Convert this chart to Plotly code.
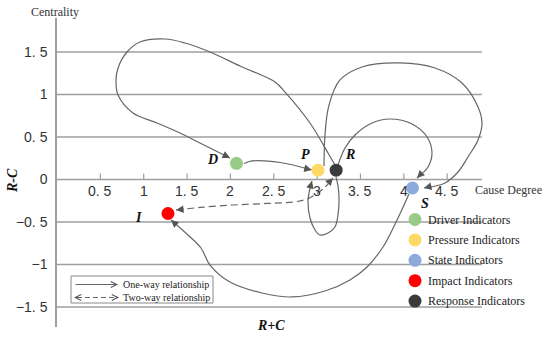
import math
import plotly.graph_objects as go

# ---------------- data ----------------
node_names = ["D", "P", "S", "I", "R"]
node_x = [2.07, 3.01, 4.10, 1.28, 3.22]      # R+C
node_y = [0.19, 0.11, -0.10, -0.40, 0.11]    # R-C
node_colors = ["#97CB86", "#FFD966", "#8EA9DB", "#FF0000", "#3B3B3B"]

legend_labels = ["Driver Indicators", "Pressure Indicators", "State Indicators",
                 "Impact Indicators", "Response Indicators"]

x_tick_vals = [0.5, 1, 1.5, 2, 2.5, 3, 3.5, 4, 4.5]
x_tick_text = ["0. 5", "1", "1. 5", "2", "2. 5", "3", "3. 5", "4", "4. 5"]
y_tick_vals = [-1.5, -1, -0.5, 0, 0.5, 1, 1.5]
y_tick_text = ["\u22121. 5", "\u22121", "\u22120. 5", "0", "0. 5", "1", "1. 5"]

# relationship curves (control points in R+C / R-C units)
dp_x = [2.157, 2.249, 2.572, 2.938]
dp_y = [0.188, 0.218, 0.200, 0.112]

rd_x = [3.206, 3.126, 2.918, 2.630, 2.514, 2.111, 1.765, 1.476, 1.246, 0.957, 0.807,
        0.704, 0.681, 0.704, 0.877, 1.153, 1.419, 1.649, 1.995]
rd_y = [0.171, 0.312, 0.665, 1.029, 1.147, 1.335, 1.500, 1.606, 1.653, 1.618, 1.500,
        1.312, 1.171, 0.994, 0.782, 0.665, 0.547, 0.429, 0.253]

ps_x = [3.080, 3.091, 3.137, 3.264, 3.518, 3.956, 4.360, 4.671, 4.856, 4.902,
        4.856, 4.740, 4.625, 4.475, 4.233]
ps_y = [0.159, 0.524, 0.876, 1.171, 1.324, 1.371, 1.312, 1.135, 0.853, 0.665,
        0.465, 0.265, 0.088, -0.041, -0.100]

rs_x = [3.241, 3.322, 3.449, 3.633, 3.841, 4.095, 4.268, 4.325, 4.279, 4.152]
rs_y = [0.171, 0.371, 0.535, 0.665, 0.712, 0.653, 0.500, 0.312, 0.147, 0.018]

rp_x = [3.218, 3.241, 3.253, 3.241, 3.206, 3.126, 3.033, 2.976, 2.918, 2.895, 2.918, 2.941]
rp_y = [0.029, -0.076, -0.229, -0.418, -0.559, -0.629, -0.653, -0.594, -0.453, -0.265,
        -0.100, -0.018]

si_x = [4.060, 3.922, 3.760, 3.576, 3.379, 3.091, 2.711, 2.364, 1.995, 1.765, 1.661,
        1.511, 1.315]
si_y = [-0.171, -0.476, -0.794, -1.029, -1.182, -1.312, -1.382, -1.335, -1.206, -1.006,
        -0.806, -0.653, -0.476]

ir_x = [1.373, 1.649, 2.030, 2.422, 2.722, 2.884, 3.068, 3.183]
ir_y = [-0.359, -0.329, -0.300, -0.282, -0.265, -0.229, -0.112, 0.018]

# ---------------- layout constants ----------------
FW, FH = 550, 337
ML, MR, MT, MB = 57, 0, 18, 10
PW, PH = FW - ML - MR, FH - MT - MB
X_RANGE = [0, PW / 86.7]
Y_RANGE = [(179.5 - (FH - MB)) / 85.0, (179.5 - MT) / 85.0]
SX = PW / (X_RANGE[1] - X_RANGE[0])
SY = PH / (Y_RANGE[1] - Y_RANGE[0])
GRID_END = 4.9

LINE_C = "#666666"
HEAD_C = "#555555"
GRID_C = "#9E9E9E"
TXT_C = "#333333"
SERIF = "Liberation Serif, Times New Roman, serif"
SANS = "Liberation Sans, Arial, sans-serif"


def paper(px, py):
    return (px - ML) / PW, (FH - MB - py) / PH


fig = go.Figure()

# grid lines and axis baseline
shapes = []
for yv in y_tick_vals:
    shapes.append(dict(type="line", xref="x", yref="y", x0=0, x1=GRID_END, y0=yv, y1=yv,
                       line=dict(color=GRID_C, width=1.4), layer="below"))
for xv in x_tick_vals:
    shapes.append(dict(type="line", xref="x", yref="y", ysizemode="pixel", yanchor=0,
                       x0=xv, x1=xv, y0=0, y1=6, line=dict(color=GRID_C, width=1.2),
                       layer="below"))

annotations = []


def head(xs, ys, at_start=False, back=9):
    if at_start:
        tx, ty, qx, qy = xs[0], ys[0], xs[1], ys[1]
    else:
        tx, ty, qx, qy = xs[-1], ys[-1], xs[-2], ys[-2]
    dxp = (qx - tx) * SX
    dyp = (qy - ty) * SY
    d = math.hypot(dxp, dyp)
    ax = tx + (dxp / d * back) / SX
    ay = ty + (dyp / d * back) / SY
    annotations.append(dict(x=tx, y=ty, ax=ax, ay=ay, xref="x", yref="y", axref="x",
                            ayref="y", text="", showarrow=True, arrowhead=2,
                            arrowsize=1.25, arrowwidth=1.2, arrowcolor=HEAD_C, standoff=0))


def curve(xs, ys, dash="solid"):
    fig.add_trace(go.Scatter(x=xs, y=ys, mode="lines", hoverinfo="skip", showlegend=False,
                             line=dict(shape="spline", smoothing=1.0, color=LINE_C,
                                       width=1.2, dash=dash)))


for cx, cy in [(dp_x, dp_y), (rd_x, rd_y), (ps_x, ps_y), (rs_x, rs_y), (rp_x, rp_y),
               (si_x, si_y)]:
    curve(cx, cy)
    head(cx, cy)
curve(ir_x, ir_y, dash="7px,4px")
head(ir_x, ir_y, at_start=True)
head(ir_x, ir_y)

# nodes
fig.add_trace(go.Scatter(x=node_x, y=node_y, mode="markers", showlegend=False,
                         marker=dict(size=13, color=node_colors, line=dict(width=0))))

label_shift = {"D": (-24, 4), "P": (-12, 16), "R": (14, 16), "S": (13, -15), "I": (-29, -4)}
for n, xv, yv in zip(node_names, node_x, node_y):
    sx, sy = label_shift[n]
    annotations.append(dict(x=xv, y=yv, xref="x", yref="y", text="<b><i>%s</i></b>" % n,
                            showarrow=False, xshift=sx, yshift=sy,
                            font=dict(family=SERIF, size=14, color="#111")))

# x tick labels on the zero line
for xv, t in zip(x_tick_vals, x_tick_text):
    annotations.append(dict(x=xv, y=0, xref="x", yref="y", text=t, showarrow=False,
                            yshift=-11, font=dict(family=SANS, size=14, color=TXT_C)))

# axis titles
for txt, px, py, kw in [("Centrality", 55, 12, dict(font=dict(family=SERIF, size=12, color=TXT_C))),
                        ("Cause Degree", 508, 190, dict(font=dict(family=SERIF, size=12, color=TXT_C))),
                        ("<b><i>R+C</i></b>", 271, 325, dict(font=dict(family=SERIF, size=14, color="#111"))),
                        ("<b><i>R-C</i></b>", 12, 181, dict(textangle=-90, font=dict(family=SERIF, size=14, color="#111")))]:
    xp, yp = paper(px, py)
    annotations.append(dict(x=xp, y=yp, xref="paper", yref="paper", text=txt,
                            showarrow=False, xanchor="center", yanchor="middle", **kw))

# right legend
for i, (lab, col) in enumerate(zip(legend_labels, node_colors)):
    py = 219.5 + i * 20.4
    xp, yp = paper(415, py)
    shapes.append(dict(type="circle", xref="paper", yref="paper", xsizemode="pixel",
                       ysizemode="pixel", xanchor=xp, yanchor=yp, x0=-6.5, x1=6.5,
                       y0=-6.5, y1=6.5, fillcolor=col, line=dict(width=0), layer="above"))
    xt, yt = paper(426, py)
    annotations.append(dict(x=xt, y=yt, xref="paper", yref="paper", text=lab,
                            showarrow=False, xanchor="left", yanchor="middle",
                            font=dict(family=SERIF, size=12, color="#222")))

# relationship key box
bx0, by0 = paper(71, 303)
bx1, by1 = paper(213, 276)
shapes.append(dict(type="rect", xref="paper", yref="paper", x0=bx0, x1=bx1, y0=by0, y1=by1,
                   line=dict(color="#888888", width=1), fillcolor="white", layer="above"))
# one-way arrow
ax1, ay1 = paper(118, 284.5)
annotations.append(dict(x=ax1, y=ay1, xref="paper", yref="paper", ax=-44, ay=0, text="",
                        showarrow=True, arrowhead=5, arrowsize=1.3, arrowwidth=0.9,
                        arrowcolor="#555"))
# two-way dashed arrow
lx0, ly = paper(77, 297.5)
lx1, _ = paper(116, 297.5)
shapes.append(dict(type="line", xref="paper", yref="paper", x0=lx0, x1=lx1, y0=ly, y1=ly,
                   line=dict(color="#555", width=0.9, dash="5px,3px"), layer="above"))
for px, sgn in [(74, 1), (119, -1)]:
    hx, hy = paper(px, 297.5)
    annotations.append(dict(x=hx, y=hy, xref="paper", yref="paper", ax=sgn * 4, ay=0,
                            text="", showarrow=True, arrowhead=5, arrowsize=1.3,
                            arrowwidth=0.9, arrowcolor="#555", standoff=0))
for txt, py in [("One-way relationship", 284.5), ("Two-way relationship", 297.5)]:
    tx, ty = paper(121, py)
    annotations.append(dict(x=tx, y=ty, xref="paper", yref="paper", text=txt,
                            showarrow=False, xanchor="left", yanchor="middle",
                            font=dict(family=SERIF, size=10, color="#222")))

fig.update_layout(
    width=FW, height=FH,
    margin=dict(l=ML, r=MR, t=MT, b=MB, pad=0),
    paper_bgcolor="white", plot_bgcolor="white",
    showlegend=False,
    xaxis=dict(range=X_RANGE, visible=False, fixedrange=True),
    yaxis=dict(range=Y_RANGE, tickvals=y_tick_vals, ticktext=y_tick_text,
               showgrid=False, zeroline=False, showline=True, linecolor=GRID_C,
               linewidth=1.5, ticks="", ticklabelstandoff=5,
               tickfont=dict(family=SANS, size=14, color=TXT_C), fixedrange=True),
    shapes=shapes,
    annotations=annotations,
)

fig.write_html("out.html", config={"displayModeBar": False},
               post_script="document.body.style.margin='0';document.body.style.padding='0';"
                           "document.body.style.overflow='hidden';")
